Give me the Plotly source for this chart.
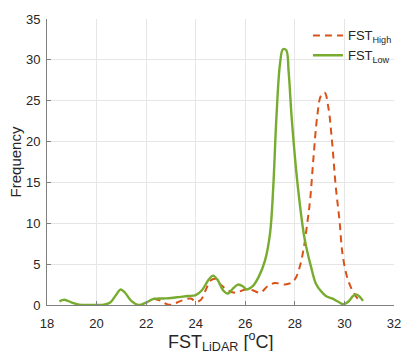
import plotly.graph_objects as go

# FST_Low (green, solid)
low_x = [18.5, 18.7, 19.0, 19.3, 19.6, 20.0, 20.3, 20.55, 20.8, 20.97, 21.15, 21.4, 21.7, 22.0, 22.3, 22.7,
         23.0, 23.4, 23.7, 24.0, 24.25, 24.5, 24.7, 24.9, 25.1, 25.3, 25.5, 25.7, 25.9, 26.05, 26.3, 26.55,
         26.8, 27.0, 27.13, 27.25, 27.4, 27.52, 27.65, 27.75, 27.88, 28.12, 28.4, 28.65, 28.85, 29.05,
         29.25, 29.5, 29.75, 29.95, 30.15, 30.35, 30.48, 30.62, 30.75]
low_y = [0.45, 0.65, 0.3, 0.05, 0.0, 0.0, 0.05, 0.3, 1.3, 1.9, 1.5, 0.5, 0.0, 0.3, 0.75, 0.8,
         0.85, 1.0, 1.1, 1.2, 1.8, 3.0, 3.6, 3.0, 1.8, 1.4, 2.0, 2.5, 2.3, 1.9, 2.3, 3.5,
         5.5, 8.8, 14.5, 22.6, 29.5, 31.3, 31.2, 28.5, 22.6, 14.5, 8.0, 4.7, 2.6, 1.7,
         1.1, 0.8, 0.4, 0.1, 0.4, 1.1, 1.3, 1.0, 0.5]

# FST_High (orange, dashed)
high_x = [22.3, 22.6, 22.8, 23.0, 23.4, 23.8, 24.0, 24.2, 24.4, 24.6, 24.8, 25.0, 25.3, 25.6, 26.0,
          26.3, 26.6, 26.9, 27.2, 27.6, 27.9, 28.05, 28.2, 28.35, 28.5, 28.62, 28.75, 28.9, 29.05,
          29.2, 29.35, 29.5, 29.65, 29.8, 29.92, 30.1, 30.3, 30.5, 30.65]
high_y = [0.8, 0.5, 0.15, 0.02, 0.5, 0.8, 0.4, 0.6, 1.8, 3.0, 3.2, 2.5, 1.8, 1.5, 1.9,
          1.8, 1.5, 2.3, 2.7, 2.5, 2.8, 3.4, 4.7, 6.8, 10.0, 13.0, 18.0, 23.0, 25.6,
          26.0, 24.2, 20.0, 14.5, 10.4, 6.3, 3.5, 1.9, 0.9, 0.4]

x_ticks = [18, 20, 22, 24, 26, 28, 30, 32]
y_ticks = [0, 5, 10, 15, 20, 25, 30, 35]
x_title = "FST<sub>LiDAR</sub> [<sup>o</sup>C]"
y_title = "Frequency"

fig = go.Figure()
fig.add_trace(go.Scatter(x=high_x, y=high_y, mode="lines", line_shape="spline",
                         name="FST<sub>High</sub>",
                         line=dict(color="#D95319", width=2, dash="7px,5px")))
fig.add_trace(go.Scatter(x=low_x, y=low_y, mode="lines", line_shape="spline",
                         name="FST<sub>Low</sub>",
                         line=dict(color="#77AC30", width=2.4)))

font_family = "Liberation Sans, Arial, sans-serif"
fig.update_layout(
    width=405, height=351,
    margin=dict(l=47, r=8, t=19, b=46),
    paper_bgcolor="white", plot_bgcolor="white",
    font=dict(family=font_family, size=13, color="#262626"),
    showlegend=True,
    legend=dict(x=0.752, xanchor="left", y=0.995, yanchor="top",
                bgcolor="rgba(0,0,0,0)", font=dict(size=13, color="#262626"),
                tracegroupgap=0, itemwidth=30),
    xaxis=dict(range=[18, 32], tickvals=x_ticks, ticktext=[str(v) for v in x_ticks],
               automargin=False,
               showgrid=True, gridcolor="#e6e6e6", gridwidth=1,
               showline=True, linecolor="#808080", linewidth=1,
               ticks="inside", ticklen=4, tickcolor="#808080",
               ticklabelstandoff=6,
               zeroline=False, tickfont=dict(size=13, color="#262626")),
    yaxis=dict(range=[0, 35], tickvals=y_ticks, ticktext=[str(v) for v in y_ticks],
               automargin=False,
               showgrid=True, gridcolor="#e6e6e6", gridwidth=1,
               showline=True, linecolor="#808080", linewidth=1,
               ticks="inside", ticklen=4, tickcolor="#808080",
               ticklabelstandoff=3,
               zeroline=False, tickfont=dict(size=13, color="#262626"),
               title=dict(text=y_title, font=dict(size=15, color="#262626"), standoff=0)),
    annotations=[dict(text=x_title, xref="paper", yref="paper", x=0.5, y=-0.078,
                      xanchor="center", yanchor="top", showarrow=False,
                      font=dict(size=18, color="#262626"))],
)

fig.write_html("out.html", config={"displayModeBar": False},
               post_script="document.body.style.margin='0px';")
